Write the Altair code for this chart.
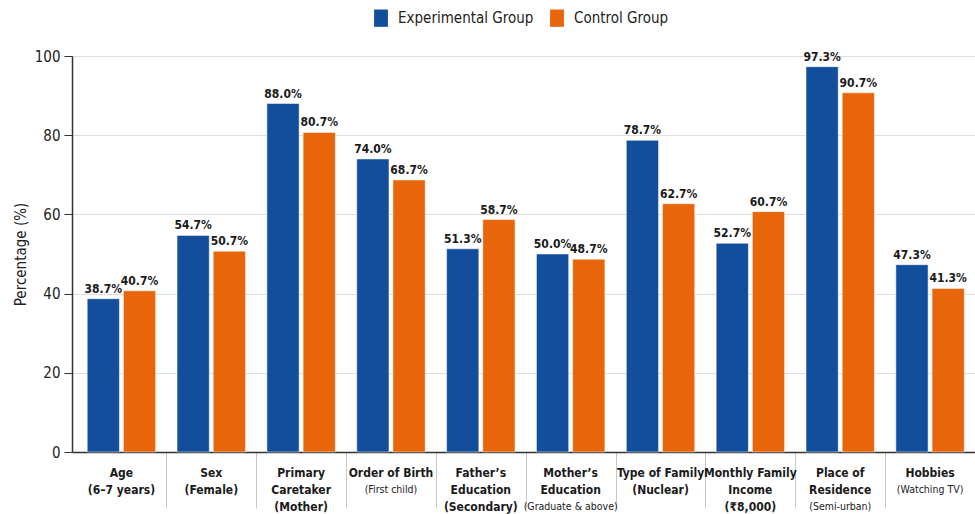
import altair as alt
import pandas as pd

# ---------------- data ----------------
LINE1 = ["Age", "Sex", "Primary", "Order of Birth", "Father’s", "Mother’s",
         "Type of Family", "Monthly Family", "Place of", "Hobbies"]
LINE2 = ["(6–7 years)", "(Female)", "Caretaker", "(First child)", "Education",
         "Education", "(Nuclear)", "Income", "Residence", "(Watching TV)"]
LINE3 = ["", "", "(Mother)", "", "(Secondary)", "(Graduate & above)", "",
         "(₹8,000)", "(Semi-urban)", ""]
EXPERIMENTAL = [38.7, 54.7, 88.0, 74.0, 51.3, 50.0, 78.7, 52.7, 97.3, 47.3]
CONTROL = [40.7, 50.7, 80.7, 68.7, 58.7, 48.7, 62.7, 60.7, 90.7, 41.3]
GROUPS = ["Experimental Group", "Control Group"]
Y_TICKS = [0, 20, 40, 60, 80, 100]

# subtitle lines drawn smaller / lighter
SMALL_LINES = {"(First child)", "(Graduate & above)", "(Semi-urban)", "(Watching TV)"}

CATS = [" ".join(t for t in (a, b, c) if t) for a, b, c in zip(LINE1, LINE2, LINE3)]

rows = []
for cat, e, c in zip(CATS, EXPERIMENTAL, CONTROL):
    rows.append({"cat": cat, "group": GROUPS[0], "value": e})
    rows.append({"cat": cat, "group": GROUPS[1], "value": c})
df = pd.DataFrame(rows)

lab_rows = []
for cat, a, b, c in zip(CATS, LINE1, LINE2, LINE3):
    for i, t in enumerate((a, b, c)):
        if t:
            lab_rows.append({"cat": cat, "text": t, "line": i, "small": t in SMALL_LINES})
labdf = pd.DataFrame(lab_rows)

# ---------------- style ----------------
FONT = "'Liberation Sans Narrow', 'DejaVu Sans Condensed', Roboto, sans-serif"
BLUE = "#124E9C"
ORANGE = "#E8650A"
W, H = 903, 396

xscale = alt.Scale(domain=CATS, paddingInner=0, paddingOuter=0.025, align=1)
xoff_scale = alt.Scale(domain=GROUPS, paddingInner=0.11, paddingOuter=0.296)
color_scale = alt.Scale(domain=GROUPS, range=[BLUE, ORANGE])

# separators between categories (not before the first one)
x_enc = alt.X("cat:N", scale=xscale, sort=CATS, title=None,
              axis=alt.Axis(labels=False, tickBand="extent", tickSize=56,
                            values=CATS[1:], tickColor="#c8c8c8", tickWidth=1,
                            domainColor="#333333", domainWidth=1.5, grid=False))

base = alt.Chart(df)

bars = base.mark_bar(stroke="white", strokeWidth=0.5).encode(
    x=x_enc,
    xOffset=alt.XOffset("group:N", scale=xoff_scale, sort=GROUPS),
    y=alt.Y("value:Q", scale=alt.Scale(domain=[0, 100], nice=False),
            title="Percentage (%)",
            axis=alt.Axis(values=Y_TICKS, tickSize=8, tickColor="#333333",
                          domainColor="#333333", domainWidth=1.5,
                          labelFontSize=15, labelColor="#222222", labelPadding=4,
                          titleFontSize=15, titleFontWeight="normal", titleColor="#222222",
                          titlePadding=6, gridColor="#dddddd", gridWidth=1)),
    color=alt.Color("group:N", scale=color_scale, sort=GROUPS, title=None,
                    legend=alt.Legend(orient="none", direction="horizontal",
                                      legendX=300, legendY=-47,
                                      symbolType="M-0.8,-1H0.8V1H-0.8Z", symbolSize=300,
                                      symbolStrokeWidth=0, symbolOpacity=1,
                                      labelFontSize=15, labelColor="#222222",
                                      labelOffset=8, columnPadding=14)),
)

vals = base.transform_calculate(
    lbl="format(datum.value, '.1f') + '%'"
).mark_text(baseline="bottom", dy=-3, fontSize=12, fontWeight="bold",
            color="#1a1a1a", font=FONT).encode(
    x=alt.X("cat:N", scale=xscale, sort=CATS),
    xOffset=alt.XOffset("group:N", scale=xoff_scale, sort=GROUPS),
    y=alt.Y("value:Q"),
    text="lbl:N",
)

label_layers = []
for line in range(3):
    for small in (False, True):
        sub = labdf[(labdf["line"] == line) & (labdf["small"] == small)]
        if sub.empty:
            continue
        label_layers.append(
            alt.Chart(sub).mark_text(
                baseline="middle", align="center", dy=21 + 17 * line,
                fontSize=10.5 if small else 12,
                fontWeight="normal" if small else "bold",
                color="#1a1a1a", font=FONT,
            ).encode(
                x=alt.X("cat:N", scale=xscale, sort=CATS),
                y=alt.value(H),
                text="text:N",
            )
        )

chart = alt.layer(bars, vals, *label_layers).properties(
    width=W, height=H,
    autosize=alt.AutoSizeParams(type="none"),
    padding={"left": 72, "top": 56, "right": 0, "bottom": 62},
).configure(font=FONT).configure_view(stroke=None).configure_axis(
    labelFont=FONT, titleFont=FONT
).configure_legend(labelFont=FONT)

chart.save("out.html", embed_options={"renderer": "svg", "actions": False})
